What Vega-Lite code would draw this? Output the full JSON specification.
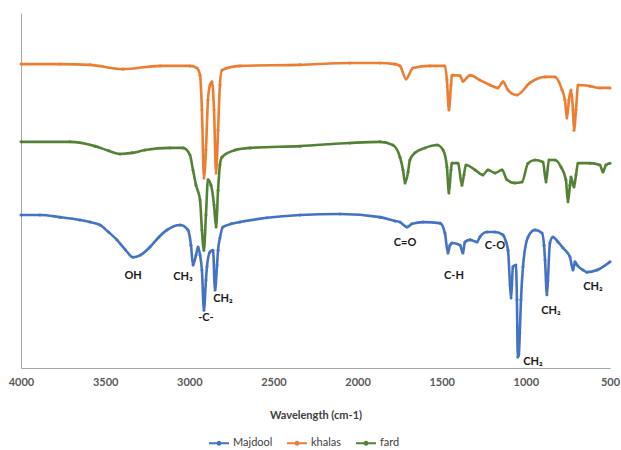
{
  "$schema": "https://vega.github.io/schema/vega-lite/v6.json",
  "width": 589,
  "height": 355,
  "autosize": {"type": "none"},
  "padding": {"left": 21, "top": 13, "right": 11, "bottom": 82},
  "background": "white",
  "config": {"view": {"stroke": null}, "font": "Lato"},
  "datasets": {
    "spectra": [
      {"s":"Majdool","w":4000,"t":43.1},{"s":"Majdool","w":3887,"t":43.1},{"s":"Majdool","w":3768,"t":42.5},{"s":"Majdool","w":3649,"t":41.7},{"s":"Majdool","w":3590,"t":41.1},{"s":"Majdool","w":3531,"t":40.3},{"s":"Majdool","w":3480,"t":38.3},{"s":"Majdool","w":3430,"t":36.1},{"s":"Majdool","w":3380,"t":33.3},{"s":"Majdool","w":3334,"t":31.2},{"s":"Majdool","w":3290,"t":31.8},{"s":"Majdool","w":3233,"t":34.1},{"s":"Majdool","w":3180,"t":36.9},{"s":"Majdool","w":3132,"t":38.9},{"s":"Majdool","w":3055,"t":40.3},{"s":"Majdool","w":3008,"t":38.9},{"s":"Majdool","w":2990,"t":34.6},{"s":"Majdool","w":2978,"t":29.0},{"s":"Majdool","w":2960,"t":31.8},{"s":"Majdool","w":2948,"t":34.1},{"s":"Majdool","w":2936,"t":31.8},{"s":"Majdool","w":2925,"t":27.6},{"s":"Majdool","w":2913,"t":16.3},{"s":"Majdool","w":2901,"t":24.8},{"s":"Majdool","w":2895,"t":28.5},{"s":"Majdool","w":2877,"t":32.7},{"s":"Majdool","w":2859,"t":33.2},{"s":"Majdool","w":2847,"t":22.0},{"s":"Majdool","w":2835,"t":29.0},{"s":"Majdool","w":2829,"t":33.2},{"s":"Majdool","w":2818,"t":36.6},{"s":"Majdool","w":2800,"t":39.7},{"s":"Majdool","w":2750,"t":40.6},{"s":"Majdool","w":2699,"t":41.1},{"s":"Majdool","w":2538,"t":42.3},{"s":"Majdool","w":2342,"t":43.1},{"s":"Majdool","w":2104,"t":43.4},{"s":"Majdool","w":1867,"t":42.5},{"s":"Majdool","w":1778,"t":41.4},{"s":"Majdool","w":1748,"t":41.1},{"s":"Majdool","w":1706,"t":39.7},{"s":"Majdool","w":1677,"t":40.6},{"s":"Majdool","w":1611,"t":41.1},{"s":"Majdool","w":1510,"t":40.8},{"s":"Majdool","w":1481,"t":38.0},{"s":"Majdool","w":1463,"t":32.4},{"s":"Majdool","w":1451,"t":34.6},{"s":"Majdool","w":1439,"t":35.2},{"s":"Majdool","w":1391,"t":34.6},{"s":"Majdool","w":1374,"t":32.4},{"s":"Majdool","w":1362,"t":35.5},{"s":"Majdool","w":1332,"t":36.1},{"s":"Majdool","w":1290,"t":35.5},{"s":"Majdool","w":1273,"t":36.9},{"s":"Majdool","w":1231,"t":38.3},{"s":"Majdool","w":1183,"t":38.3},{"s":"Majdool","w":1136,"t":37.5},{"s":"Majdool","w":1118,"t":35.5},{"s":"Majdool","w":1106,"t":33.2},{"s":"Majdool","w":1094,"t":23.4},{"s":"Majdool","w":1088,"t":19.7},{"s":"Majdool","w":1083,"t":23.4},{"s":"Majdool","w":1077,"t":28.5},{"s":"Majdool","w":1059,"t":29.0},{"s":"Majdool","w":1053,"t":19.2},{"s":"Majdool","w":1048,"t":3.1},{"s":"Majdool","w":1042,"t":3.7},{"s":"Majdool","w":1036,"t":9.9},{"s":"Majdool","w":1029,"t":19.2},{"s":"Majdool","w":1017,"t":28.5},{"s":"Majdool","w":987,"t":36.9},{"s":"Majdool","w":946,"t":38.9},{"s":"Majdool","w":904,"t":38.0},{"s":"Majdool","w":892,"t":34.6},{"s":"Majdool","w":886,"t":30.4},{"s":"Majdool","w":875,"t":20.6},{"s":"Majdool","w":869,"t":24.8},{"s":"Majdool","w":857,"t":35.2},{"s":"Majdool","w":839,"t":36.9},{"s":"Majdool","w":809,"t":35.5},{"s":"Majdool","w":779,"t":33.8},{"s":"Majdool","w":738,"t":31.3},{"s":"Majdool","w":720,"t":27.6},{"s":"Majdool","w":708,"t":29.9},{"s":"Majdool","w":696,"t":29.0},{"s":"Majdool","w":660,"t":27.6},{"s":"Majdool","w":637,"t":27.0},{"s":"Majdool","w":577,"t":27.6},{"s":"Majdool","w":500,"t":29.9},
      {"s":"khalas","w":4000,"t":85.6},{"s":"khalas","w":3768,"t":85.6},{"s":"khalas","w":3590,"t":85.4},{"s":"khalas","w":3394,"t":84.2},{"s":"khalas","w":3174,"t":85.1},{"s":"khalas","w":2996,"t":85.1},{"s":"khalas","w":2954,"t":84.5},{"s":"khalas","w":2936,"t":82.5},{"s":"khalas","w":2925,"t":72.7},{"s":"khalas","w":2913,"t":53.5},{"s":"khalas","w":2901,"t":61.4},{"s":"khalas","w":2889,"t":75.5},{"s":"khalas","w":2877,"t":79.7},{"s":"khalas","w":2865,"t":80.6},{"s":"khalas","w":2853,"t":72.7},{"s":"khalas","w":2841,"t":54.9},{"s":"khalas","w":2829,"t":67.0},{"s":"khalas","w":2818,"t":79.7},{"s":"khalas","w":2806,"t":83.9},{"s":"khalas","w":2699,"t":85.1},{"s":"khalas","w":2342,"t":85.4},{"s":"khalas","w":2045,"t":85.9},{"s":"khalas","w":1867,"t":85.9},{"s":"khalas","w":1778,"t":85.6},{"s":"khalas","w":1748,"t":85.1},{"s":"khalas","w":1712,"t":81.4},{"s":"khalas","w":1671,"t":84.5},{"s":"khalas","w":1570,"t":85.1},{"s":"khalas","w":1481,"t":85.1},{"s":"khalas","w":1469,"t":81.1},{"s":"khalas","w":1457,"t":72.7},{"s":"khalas","w":1445,"t":79.7},{"s":"khalas","w":1439,"t":82.5},{"s":"khalas","w":1391,"t":82.3},{"s":"khalas","w":1374,"t":80.8},{"s":"khalas","w":1332,"t":82.5},{"s":"khalas","w":1273,"t":81.1},{"s":"khalas","w":1213,"t":79.7},{"s":"khalas","w":1166,"t":78.9},{"s":"khalas","w":1136,"t":80.6},{"s":"khalas","w":1106,"t":78.3},{"s":"khalas","w":1053,"t":76.9},{"s":"khalas","w":976,"t":80.3},{"s":"khalas","w":886,"t":82.0},{"s":"khalas","w":827,"t":82.0},{"s":"khalas","w":785,"t":78.3},{"s":"khalas","w":768,"t":75.5},{"s":"khalas","w":756,"t":70.4},{"s":"khalas","w":744,"t":75.5},{"s":"khalas","w":732,"t":78.3},{"s":"khalas","w":720,"t":72.7},{"s":"khalas","w":714,"t":67.0},{"s":"khalas","w":702,"t":72.7},{"s":"khalas","w":690,"t":79.7},{"s":"khalas","w":619,"t":79.4},{"s":"khalas","w":560,"t":78.9},{"s":"khalas","w":500,"t":78.9},
      {"s":"fard","w":4000,"t":63.7},{"s":"fard","w":3709,"t":63.7},{"s":"fard","w":3560,"t":62.5},{"s":"fard","w":3480,"t":61.2},{"s":"fard","w":3412,"t":60.3},{"s":"fard","w":3340,"t":60.6},{"s":"fard","w":3263,"t":61.4},{"s":"fard","w":3115,"t":62.0},{"s":"fard","w":3037,"t":62.0},{"s":"fard","w":2996,"t":60.0},{"s":"fard","w":2978,"t":55.8},{"s":"fard","w":2960,"t":51.5},{"s":"fard","w":2936,"t":47.3},{"s":"fard","w":2925,"t":38.9},{"s":"fard","w":2913,"t":33.2},{"s":"fard","w":2901,"t":43.1},{"s":"fard","w":2889,"t":53.0},{"s":"fard","w":2871,"t":51.5},{"s":"fard","w":2853,"t":45.9},{"s":"fard","w":2841,"t":39.7},{"s":"fard","w":2829,"t":50.1},{"s":"fard","w":2818,"t":57.2},{"s":"fard","w":2806,"t":59.4},{"s":"fard","w":2728,"t":61.4},{"s":"fard","w":2639,"t":62.0},{"s":"fard","w":2342,"t":62.5},{"s":"fard","w":2045,"t":63.4},{"s":"fard","w":1867,"t":63.7},{"s":"fard","w":1790,"t":62.8},{"s":"fard","w":1748,"t":59.4},{"s":"fard","w":1730,"t":55.8},{"s":"fard","w":1718,"t":52.1},{"s":"fard","w":1700,"t":55.2},{"s":"fard","w":1689,"t":58.6},{"s":"fard","w":1659,"t":60.6},{"s":"fard","w":1599,"t":62.0},{"s":"fard","w":1528,"t":62.8},{"s":"fard","w":1492,"t":61.4},{"s":"fard","w":1469,"t":56.6},{"s":"fard","w":1457,"t":49.3},{"s":"fard","w":1445,"t":55.8},{"s":"fard","w":1439,"t":57.7},{"s":"fard","w":1403,"t":57.7},{"s":"fard","w":1380,"t":51.5},{"s":"fard","w":1368,"t":54.4},{"s":"fard","w":1356,"t":57.2},{"s":"fard","w":1302,"t":55.8},{"s":"fard","w":1255,"t":54.4},{"s":"fard","w":1225,"t":55.8},{"s":"fard","w":1183,"t":54.9},{"s":"fard","w":1142,"t":55.8},{"s":"fard","w":1112,"t":53.0},{"s":"fard","w":1065,"t":52.1},{"s":"fard","w":1023,"t":52.4},{"s":"fard","w":987,"t":57.7},{"s":"fard","w":946,"t":58.6},{"s":"fard","w":898,"t":58.0},{"s":"fard","w":880,"t":52.4},{"s":"fard","w":863,"t":58.6},{"s":"fard","w":827,"t":58.6},{"s":"fard","w":791,"t":56.6},{"s":"fard","w":762,"t":53.0},{"s":"fard","w":750,"t":46.8},{"s":"fard","w":738,"t":51.5},{"s":"fard","w":732,"t":53.8},{"s":"fard","w":714,"t":51.0},{"s":"fard","w":702,"t":54.4},{"s":"fard","w":690,"t":57.7},{"s":"fard","w":619,"t":57.7},{"s":"fard","w":560,"t":57.2},{"s":"fard","w":542,"t":55.2},{"s":"fard","w":524,"t":57.2},{"s":"fard","w":500,"t":57.7}
    ],
    "labels": [
      {"w":3334,"t":25.9,"label":"OH"},
      {"w":3037,"t":25.6,"label":"CH₃"},
      {"w":2901,"t":14.1,"label":"-C-"},
      {"w":2800,"t":19.4,"label":"CH₂"},
      {"w":1718,"t":35.2,"label":"C=O"},
      {"w":1427,"t":25.9,"label":"C-H"},
      {"w":1184,"t":34.4,"label":"C-O"},
      {"w":958,"t":1.7,"label":"CH₂"},
      {"w":851,"t":16.1,"label":"CH₂"},
      {"w":601,"t":22.8,"label":"CH₂"}
    ]
  },
  "encoding": {
    "x": {
      "field": "w", "type": "quantitative",
      "scale": {"domain": [500, 4000], "reverse": true, "nice": false},
      "axis": {
        "values": [500, 1000, 1500, 2000, 2500, 3000, 3500, 4000],
        "format": "d",
        "ticks": false, "grid": false,
        "domainColor": "#A6A6A6", "domainWidth": 1,
        "labelFontWeight": "bold", "labelFontSize": 11, "labelColor": "#595959",
        "labelPadding": 8, "labelFlush": false, "labelOverlap": false,
        "title": "Wavelength (cm-1)", "titleFontSize": 11, "titleFontWeight": "bold",
        "titleColor": "#404040", "titlePadding": 22
      }
    },
    "y": {
      "field": "t", "type": "quantitative",
      "scale": {"domain": [0, 100], "nice": false},
      "axis": {"labels": false, "ticks": false, "grid": false, "title": null, "domainColor": "#A6A6A6", "domainWidth": 1}
    }
  },
  "layer": [
    {
      "data": {"name": "spectra"},
      "mark": {"type": "line", "strokeWidth": 2.6, "interpolate": "monotone"},
      "encoding": {
        "color": {
          "field": "s", "type": "nominal",
          "scale": {"domain": ["Majdool", "khalas", "fard"], "range": ["#4472C4", "#ED7D31", "#548235"]},
          "legend": {
            "orient": "none", "legendX": 187, "legendY": 419, "direction": "horizontal",
            "title": null, "labelFontSize": 11, "labelColor": "#404040", "labelOffset": 3,
            "symbolType": "M-1,0H1M-0.15,0A0.15,0.15,0,1,1,0.15,0A0.15,0.15,0,1,1,-0.15,0Z",
            "symbolSize": 400, "symbolStrokeWidth": 2, "columnPadding": 10
          }
        }
      }
    },
    {
      "data": {"name": "spectra"},
      "mark": {"type": "point", "filled": true, "size": 9, "opacity": 1},
      "encoding": {
        "color": {"field": "s", "type": "nominal", "legend": null}
      }
    },
    {
      "data": {"name": "labels"},
      "mark": {"type": "text", "fontWeight": "bold", "fontSize": 11, "color": "#1a1a1a", "align": "center", "baseline": "middle"},
      "encoding": {"text": {"field": "label"}}
    }
  ]
}
